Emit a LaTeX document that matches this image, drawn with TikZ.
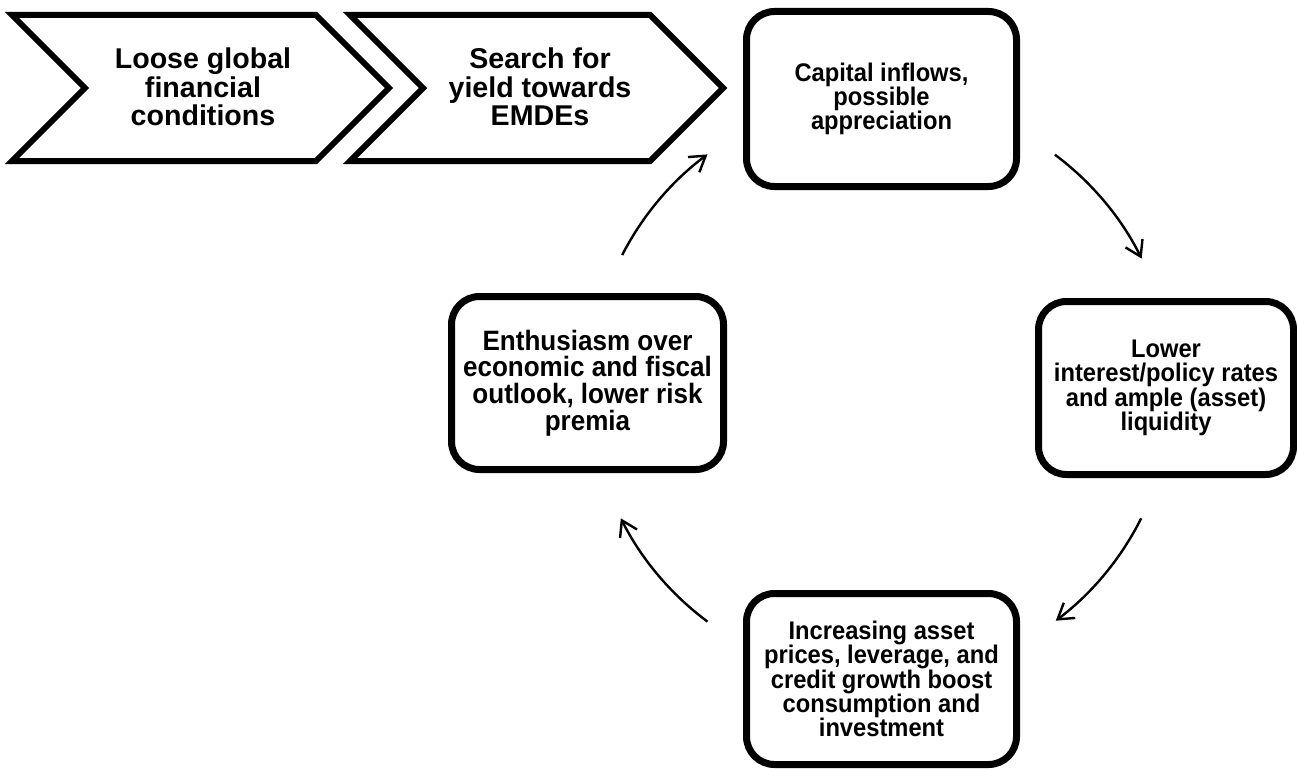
\documentclass[tikz,border=0pt]{standalone}
\usepackage{fontspec}
\setmainfont{Liberation Sans}
\newfontfamily\boxfont{Liberation Sans}[FakeStretch=0.93]
\usetikzlibrary{arrows.meta,shadows}

\tikzset{
  chevron/.style={draw=black, line width=6pt, line join=miter, fill=white},
  chevtext/.style={align=center, inner sep=0pt,
    font=\fontsize{28.6}{28.3}\selectfont\bfseries},
  cyclebox/.style={draw=black, line width=7pt, rounded corners=28pt, fill=white,
    align=center, inner sep=0pt,
    drop shadow={opacity=0.22, shadow xshift=2pt, shadow yshift=-2.5pt},
    font=\boxfont\fontsize{25.5}{24.3}\selectfont\bfseries},
  bigtext/.style={font=\boxfont\fontsize{28}{26.7}\selectfont\bfseries},
  cyclearrow/.style={draw=black, line width=2.4pt,
    -{Straight Barb[length=15pt, width=19pt, line width=2.4pt]}},
}

\begin{document}
\begin{tikzpicture}[x=1pt, y=-1pt]
\useasboundingbox (0,0) rectangle (1297,768);

% two chevrons of the lead-in
\draw[chevron] (12,15) -- (316,15) -- (389,88) -- (316,161) -- (12,161) -- (85,88) -- cycle;
\draw[chevron] (350,15) -- (650,15) -- (723,88) -- (650,161) -- (350,161) -- (423,88) -- cycle;
\node[chevtext] (loose) at (203,87) {Loose global\\financial\\conditions};
\node[chevtext] (search) at (540,87) {Search for\\yield towards\\EMDEs};

% the four boxes of the cycle
\node[cyclebox, minimum width=270pt, minimum height=175pt] (inflows) at (881.5,99)
  {Capital inflows,\\possible\\appreciation};
\node[cyclebox, minimum width=255pt, minimum height=173pt] (rates) at (1166,388)
  {Lower\\interest/policy rates\\and ample (asset)\\liquidity};
\node[cyclebox, minimum width=270pt, minimum height=171pt] (prices) at (881.5,679)
  {Increasing asset\\prices, leverage, and\\credit growth boost\\consumption and\\investment};
\node[cyclebox, bigtext, minimum width=272pt, minimum height=173pt] (enthusiasm) at (587.5,383)
  {Enthusiasm over\\economic and fiscal\\outlook, lower risk\\premia};

% curved arrows around the common centre
\coordinate (hub) at (881,388);
\path (hub) ++(-53.3:291) coordinate (a1);
\path (hub) ++(26.6:291) coordinate (a2);
\path (hub) ++(126.6:291) coordinate (a3);
\path (hub) ++(-152.8:291) coordinate (a4);
\draw[cyclearrow] (a1) arc[start angle=-53.3, end angle=-26.4, radius=291];
\draw[cyclearrow] (a2) arc[start angle=26.6, end angle=53.1, radius=291];
\draw[cyclearrow] (a3) arc[start angle=126.6, end angle=153.4, radius=291];
\draw[cyclearrow] (a4) arc[start angle=-152.8, end angle=-126.6, radius=291];
\end{tikzpicture}
\end{document}
